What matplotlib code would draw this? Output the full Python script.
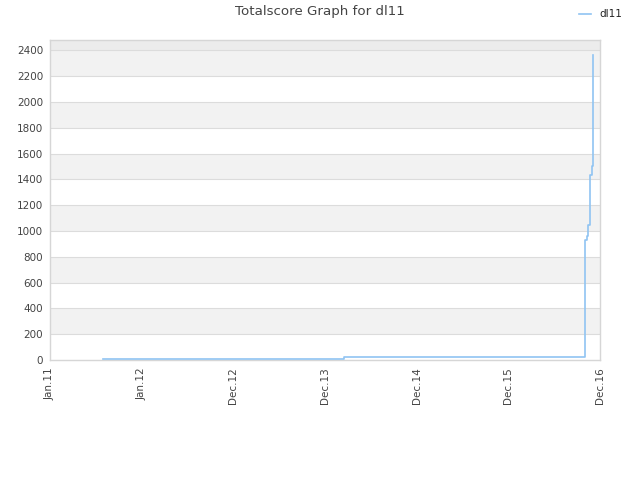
import matplotlib
matplotlib.use("Agg")
import matplotlib.pyplot as plt
import matplotlib.dates as mdates
import datetime as dt

# Data
dates = ["2011-07-31", "2014-03-16",
         "2016-10-31", "2016-10-31", "2016-10-31",
         "2016-11-02", "2016-11-02", "2016-11-02",
         "2016-11-08", "2016-11-12", "2016-11-14",
         "2016-11-22", "2016-11-22", "2016-11-27",
         "2016-12-01", "2016-12-01", "2016-12-01", "2016-12-01"]
scores = [10, 20,
          60, 150, 300,
          500, 700, 930,
          960, 1000, 1050,
          1200, 1430, 1500,
          1700, 1900, 2100, 2360]
tick_dates = ["2011-01-01", "2012-01-01", "2012-12-31", "2013-12-31",
              "2014-12-31", "2015-12-31", "2016-12-30"]
tick_labels = ["Jan.11", "Jan.12", "Dec.12", "Dec.13", "Dec.14", "Dec.15", "Dec.16"]
yticks = list(range(0, 2401, 200))
series_name = "dl11"
title = "Totalscore Graph for dl11"

to_d = lambda s: dt.datetime.strptime(s, "%Y-%m-%d")
x = [to_d(d) for d in dates]
tx = [to_d(d) for d in tick_dates]

fig = plt.figure(figsize=(6.4, 4.8), dpi=100)
ax = fig.add_axes([50/640, 1-360/480, 550/640, 320/480])

ymax = 2480
# bands
for lo in range(200, 2400, 400):
    ax.axhspan(lo, lo + 200, color="#f2f2f2", zorder=0, lw=0)
ax.axhspan(2400, ymax, color="#ececec", zorder=0, lw=0)
for y in yticks[1:]:
    ax.axhline(y, color="#dcdcdc", lw=0.8, zorder=1)

ax.plot(x, scores, drawstyle="steps-post", color="#90c4f2", lw=1.2, zorder=3,
        label=series_name)

ax.set_xlim(tx[0], tx[-1])
ax.set_ylim(0, ymax)
ax.set_xticks(tx)
ax.set_xticklabels(tick_labels, rotation=90)
ax.set_yticks(yticks)
ax.tick_params(axis="both", length=0, labelsize=7.5, colors="#444444", pad=5)
for sp in ax.spines.values():
    sp.set_color("#d6d6d6")
    sp.set_linewidth(1)

fig.text(0.5, 1-12/480, title, ha="center", va="center", fontsize=9.6, color="#444444")
leg = fig.legend(loc="upper right", bbox_to_anchor=(0.9875, 1.0), frameon=False,
                 fontsize=7.5, handlelength=1.2, handletextpad=0.8)
for t in leg.get_texts():
    t.set_color("#222222")

fig.savefig("out.png", dpi=100)
